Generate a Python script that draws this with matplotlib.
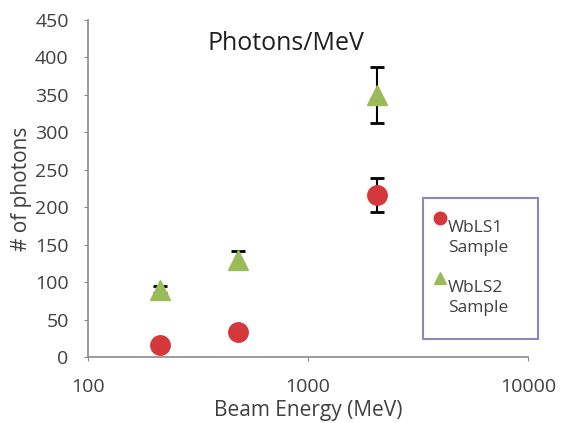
import numpy as np
import matplotlib.pyplot as plt
from matplotlib.lines import Line2D
from matplotlib.legend_handler import HandlerLine2D

# beam energy (MeV) and photon counts
energy = [212, 480, 2060]
wbls1 = [16, 33, 216]
wbls1_err = [0, 0, 23]
wbls2 = [90, 130, 350]
wbls2_err = [5, 12, 37]

plt.rcParams['font.family'] = ['Open Sans', 'DejaVu Sans']


class RaisedHandler(HandlerLine2D):
    # put the legend marker next to the first line of a two-line label
    def create_artists(self, legend, orig_handle, xdescent, ydescent,
                       width, height, fontsize, trans):
        arts = super().create_artists(legend, orig_handle, xdescent, ydescent,
                                      width, height, fontsize, trans)
        for a in arts:
            a.set_xdata(np.asarray(a.get_xdata()) - 0.4 * fontsize)
            a.set_ydata(np.asarray(a.get_ydata()) + 1.15 * fontsize)
        return arts


fig = plt.figure(figsize=(5.61, 4.23), dpi=100)
ax = fig.add_axes([0.157, 0.156, 0.784, 0.797])

red = '#d4383b'
green = '#9bbb59'

ax.errorbar(energy, wbls1, yerr=wbls1_err, fmt='o', color=red, ms=14,
            ecolor='black', elinewidth=1.5, capsize=5, capthick=2, zorder=3)
ax.errorbar(energy, wbls2, yerr=wbls2_err, fmt='^', color=green, ms=14,
            ecolor='black', elinewidth=1.5, capsize=5, capthick=2, zorder=3)

ax.set_xscale('log')
ax.set_xlim(100, 10000)
ax.set_ylim(0, 450)
ax.set_yticks(range(0, 451, 50))
ax.set_xticks([100, 1000, 10000])
ax.set_xticklabels(['100', '1000', '10000'])
ax.minorticks_off()

for s in ['top', 'right']:
    ax.spines[s].set_visible(False)
for s in ['left', 'bottom']:
    ax.spines[s].set_color('#8a8a8a')
    ax.spines[s].set_linewidth(1.2)
ax.tick_params(colors='#8a8a8a', labelcolor='#404040', labelsize=14, length=3)
ax.tick_params(axis='x', pad=12)
ax.tick_params(axis='y', pad=11)

ax.set_xlabel('Beam Energy (MeV)', fontsize=15, color='#404040', labelpad=3)
ax.set_ylabel('# of photons', fontsize=15, color='#404040', labelpad=2)
ax.text(0.45, 0.929, 'Photons/MeV', transform=ax.transAxes, ha='center',
        va='center', fontsize=18, color='#202020')

handles = [Line2D([], [], ls='none', marker='o', color=red, ms=9),
           Line2D([], [], ls='none', marker='^', color=green, ms=9)]
leg = ax.legend(handles, ['WbLS1\nSample', 'WbLS2\nSample'],
                loc='upper left', bbox_to_anchor=(0.761, 0.0, 0.261, 0.472),
                mode='expand', fontsize=12.5, handlelength=0.15,
                handletextpad=0.0, labelspacing=1.4, borderpad=1.3,
                borderaxespad=0, fancybox=False,
                edgecolor='#8e86bd', framealpha=1, labelcolor='#404040',
                handler_map={Line2D: RaisedHandler()})
leg.get_frame().set_linewidth(1.5)
for t in leg.get_texts():
    t.set_linespacing(1.3)

fig.savefig('out.png', dpi=100)
